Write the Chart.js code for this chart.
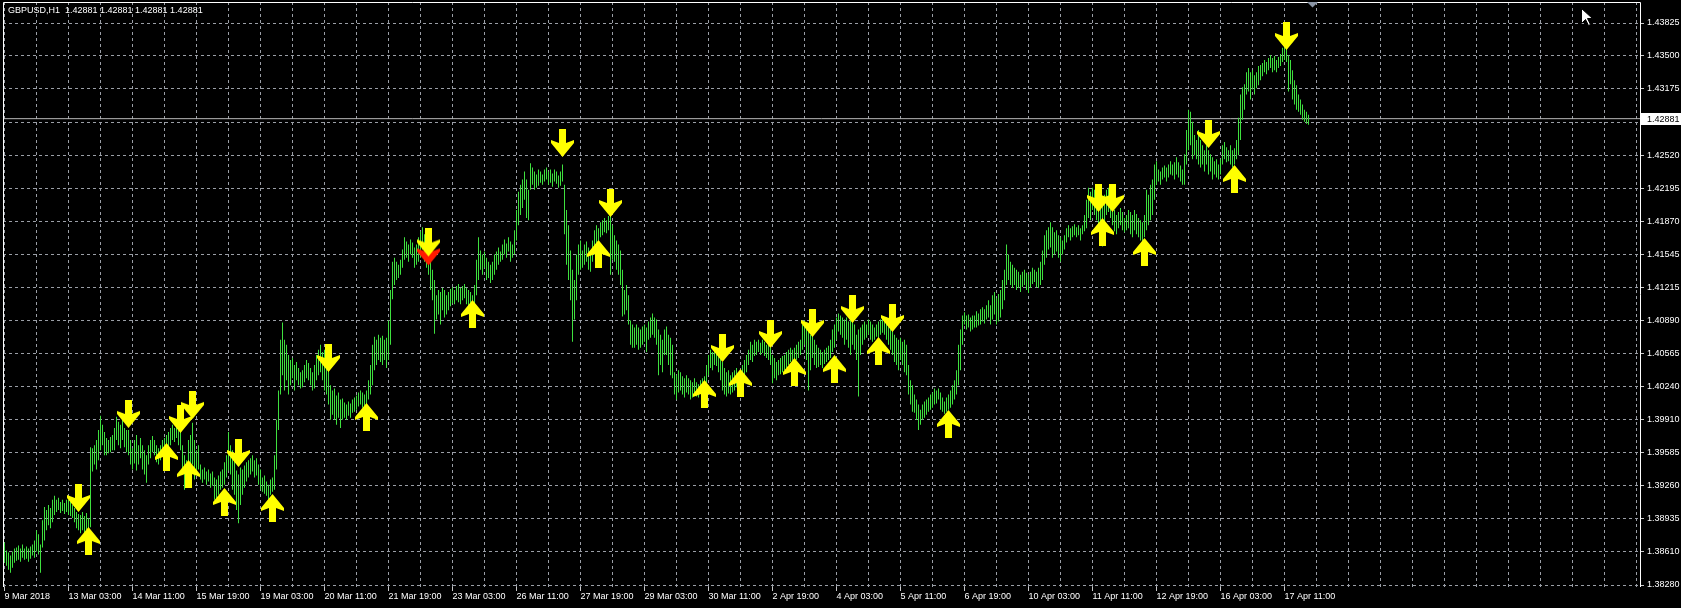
<!DOCTYPE html>
<html><head><meta charset="utf-8">
<script src="https://cdn.jsdelivr.net/npm/chart.js@4.4.1/dist/chart.umd.min.js"></script>
<style>html,body{margin:0;padding:0;background:#000;overflow:hidden}canvas{display:block}</style>
</head><body>
<canvas id="c" width="1681" height="608"></canvas>
<script>
// ---------- data ----------
const symbolTitle = 'GBPUSD,H1  1.42881 1.42881 1.42881 1.42881';
const currentPrice = 1.42881;
const priceTicks = [1.38280,1.38610,1.38935,1.39260,1.39585,1.39910,1.40240,1.40565,1.40890,1.41215,1.41545,1.41870,1.42195,1.42520,1.42845,1.43175,1.43500,1.43825];
const timeLabels = ['9 Mar 2018','13 Mar 03:00','14 Mar 11:00','15 Mar 19:00','19 Mar 03:00','20 Mar 11:00','21 Mar 19:00','23 Mar 03:00','26 Mar 11:00','27 Mar 19:00','29 Mar 03:00','30 Mar 11:00','2 Apr 19:00','4 Apr 03:00','5 Apr 11:00','6 Apr 19:00','10 Apr 03:00','11 Apr 11:00','12 Apr 19:00','16 Apr 03:00','17 Apr 11:00'];
const timeLabelBars = [0,32,64,96,128,160,192,224,256,288,320,352,384,416,448,480,512,544,576,608,640];

// hourly bars: [low, high]
const hlBars = [
[1.3850,1.3870],[1.3847,1.3862],[1.3843,1.3860],[1.3840,1.3857],[1.3845,1.3861],[1.3850,1.3864],[1.3852,1.3865],[1.3853,1.3867],[1.3851,1.3864],[1.3855,1.3868],
[1.3853,1.3864],[1.3854,1.3866],[1.3851,1.3864],[1.3854,1.3866],[1.3857,1.3868],[1.3855,1.3872],[1.3861,1.3882],[1.3858,1.3878],[1.3840,1.3868],[1.3865,1.3892],
[1.3872,1.3905],[1.3882,1.3902],[1.3887,1.3907],[1.3884,1.3904],[1.3890,1.3912],[1.3897,1.3916],[1.3900,1.3912],[1.3902,1.3914],[1.3899,1.3910],[1.3901,1.3912],
[1.3898,1.3909],[1.3900,1.3912],[1.3897,1.3912],[1.3896,1.3910],[1.3894,1.3907],[1.3890,1.3904],[1.3884,1.3900],[1.3882,1.3898],[1.3879,1.3897],[1.3882,1.3900],
[1.3878,1.3896],[1.3882,1.3899],[1.3876,1.3894],[1.3885,1.3964],[1.3940,1.3963],[1.3947,1.3966],[1.3942,1.3971],[1.3951,1.3981],[1.3961,1.3995],[1.3966,1.3986],
[1.3956,1.3979],[1.3956,1.3973],[1.3958,1.3971],[1.3959,1.3974],[1.3961,1.3976],[1.3961,1.3983],[1.3971,1.3994],[1.3966,1.3989],[1.3963,1.3986],[1.3971,1.3991],
[1.3964,1.3983],[1.3959,1.3981],[1.3956,1.3981],[1.3947,1.3971],[1.3942,1.3963],[1.3948,1.3971],[1.3941,1.3976],[1.3947,1.3966],[1.3953,1.3973],[1.3942,1.3966],
[1.3937,1.3961],[1.3929,1.3956],[1.3947,1.3966],[1.3953,1.3971],[1.3959,1.3975],[1.3956,1.3971],[1.3949,1.3966],[1.3947,1.3963],[1.3951,1.3966],[1.3956,1.3971],
[1.3958,1.3973],[1.3961,1.3976],[1.3963,1.3979],[1.3966,1.3983],[1.3971,1.3986],[1.3969,1.3983],[1.3973,1.3986],[1.3966,1.3981],[1.3961,1.3979],[1.3937,1.3966],
[1.3922,1.3956],[1.3927,1.3951],[1.3932,1.3971],[1.3942,1.3976],[1.3947,1.3988],[1.3932,1.3971],[1.3937,1.3961],[1.3942,1.3966],[1.3932,1.3947],[1.3929,1.3942],
[1.3932,1.3944],[1.3927,1.3940],[1.3930,1.3942],[1.3924,1.3938],[1.3926,1.3940],[1.3912,1.3934],[1.3910,1.3932],[1.3917,1.3936],[1.3922,1.3940],[1.3924,1.3942],
[1.3927,1.3949],[1.3934,1.3956],[1.3941,1.3979],[1.3937,1.3966],[1.3922,1.3961],[1.3917,1.3951],[1.3902,1.3941],[1.3889,1.3937],[1.3907,1.3944],[1.3917,1.3942],
[1.3924,1.3946],[1.3930,1.3949],[1.3934,1.3951],[1.3937,1.3953],[1.3940,1.3956],[1.3934,1.3951],[1.3936,1.3953],[1.3927,1.3947],[1.3922,1.3942],[1.3920,1.3934],
[1.3918,1.3936],[1.3916,1.3930],[1.3912,1.3927],[1.3917,1.3932],[1.3920,1.3934],[1.3922,1.3956],[1.3942,1.3991],[1.3981,1.4020],[1.4016,1.4070],[1.4035,1.4087],
[1.4020,1.4070],[1.4030,1.4065],[1.4016,1.4055],[1.4025,1.4050],[1.4032,1.4052],[1.4020,1.4045],[1.4030,1.4048],[1.4025,1.4042],[1.4022,1.4038],[1.4023,1.4040],
[1.4028,1.4045],[1.4032,1.4050],[1.4030,1.4047],[1.4025,1.4042],[1.4020,1.4038],[1.4022,1.4045],[1.4030,1.4055],[1.4035,1.4060],[1.4038,1.4065],[1.4030,1.4058],
[1.4020,1.4060],[1.4016,1.4053],[1.4006,1.4040],[1.3991,1.4025],[1.3996,1.4020],[1.3991,1.4022],[1.3986,1.4015],[1.3993,1.4018],[1.3983,1.4011],[1.3991,1.4012],
[1.3993,1.4008],[1.3991,1.4006],[1.3995,1.4009],[1.3993,1.4007],[1.3998,1.4011],[1.3999,1.4013],[1.4001,1.4015],[1.4004,1.4018],[1.4006,1.4020],[1.4003,1.4018],
[1.4001,1.4016],[1.4005,1.4020],[1.4011,1.4030],[1.4016,1.4045],[1.4025,1.4065],[1.4040,1.4073],[1.4045,1.4070],[1.4050,1.4075],[1.4048,1.4072],[1.4045,1.4074],
[1.4050,1.4070],[1.4042,1.4072],[1.4050,1.4089],[1.4065,1.4119],[1.4110,1.4147],[1.4124,1.4151],[1.4129,1.4147],[1.4131,1.4144],[1.4134,1.4149],[1.4141,1.4159],
[1.4149,1.4171],[1.4151,1.4167],[1.4147,1.4164],[1.4154,1.4169],[1.4151,1.4166],[1.4141,1.4161],[1.4144,1.4164],[1.4147,1.4171],[1.4151,1.4177],[1.4159,1.4181],
[1.4147,1.4174],[1.4141,1.4168],[1.4134,1.4164],[1.4119,1.4149],[1.4109,1.4139],[1.4076,1.4129],[1.4090,1.4114],[1.4095,1.4119],[1.4085,1.4117],[1.4099,1.4121],
[1.4092,1.4119],[1.4095,1.4114],[1.4099,1.4117],[1.4103,1.4120],[1.4106,1.4122],[1.4105,1.4119],[1.4109,1.4123],[1.4107,1.4125],[1.4105,1.4121],[1.4109,1.4123],
[1.4111,1.4125],[1.4105,1.4121],[1.4100,1.4119],[1.4095,1.4117],[1.4087,1.4114],[1.4105,1.4124],[1.4114,1.4149],[1.4129,1.4171],[1.4139,1.4158],[1.4134,1.4154],
[1.4141,1.4157],[1.4129,1.4151],[1.4131,1.4147],[1.4126,1.4144],[1.4129,1.4147],[1.4134,1.4154],[1.4139,1.4157],[1.4144,1.4161],[1.4147,1.4157],[1.4149,1.4164],
[1.4154,1.4169],[1.4151,1.4165],[1.4157,1.4171],[1.4147,1.4167],[1.4151,1.4164],[1.4154,1.4178],[1.4168,1.4198],[1.4183,1.4216],[1.4193,1.4223],[1.4200,1.4228],
[1.4208,1.4236],[1.4190,1.4228],[1.4188,1.4218],[1.4218,1.4244],[1.4223,1.4240],[1.4218,1.4236],[1.4220,1.4233],[1.4222,1.4238],[1.4225,1.4236],[1.4223,1.4233],
[1.4226,1.4238],[1.4228,1.4240],[1.4223,1.4236],[1.4225,1.4238],[1.4221,1.4234],[1.4226,1.4238],[1.4224,1.4236],[1.4220,1.4232],[1.4222,1.4236],[1.4226,1.4243],
[1.4174,1.4223],[1.4144,1.4198],[1.4129,1.4183],[1.4109,1.4158],[1.4068,1.4139],[1.4090,1.4129],[1.4109,1.4154],[1.4134,1.4164],[1.4139,1.4168],[1.4141,1.4158],
[1.4144,1.4164],[1.4147,1.4167],[1.4139,1.4161],[1.4137,1.4158],[1.4147,1.4168],[1.4154,1.4178],[1.4158,1.4183],[1.4168,1.4180],[1.4171,1.4186],[1.4173,1.4188],
[1.4176,1.4190],[1.4175,1.4188],[1.4178,1.4192],[1.4134,1.4193],[1.4149,1.4183],[1.4147,1.4173],[1.4139,1.4168],[1.4134,1.4164],[1.4124,1.4158],[1.4093,1.4139],
[1.4095,1.4119],[1.4099,1.4124],[1.4085,1.4114],[1.4065,1.4089],[1.4062,1.4085],[1.4062,1.4082],[1.4065,1.4085],[1.4060,1.4082],[1.4062,1.4080],[1.4065,1.4083],
[1.4068,1.4085],[1.4058,1.4082],[1.4070,1.4088],[1.4072,1.4092],[1.4075,1.4096],[1.4072,1.4092],[1.4065,1.4090],[1.4035,1.4080],[1.4045,1.4075],[1.4038,1.4070],
[1.4055,1.4080],[1.4055,1.4083],[1.4045,1.4075],[1.4035,1.4072],[1.4032,1.4065],[1.4016,1.4038],[1.4011,1.4035],[1.4018,1.4040],[1.4020,1.4038],[1.4016,1.4034],
[1.4013,1.4032],[1.4018,1.4035],[1.4016,1.4032],[1.4011,1.4030],[1.4013,1.4028],[1.4016,1.4032],[1.4014,1.4028],[1.4013,1.4026],[1.4017,1.4030],[1.4018,1.4032],
[1.4018,1.4034],[1.4025,1.4045],[1.4035,1.4055],[1.4042,1.4060],[1.4040,1.4058],[1.4045,1.4062],[1.4044,1.4060],[1.4038,1.4055],[1.4030,1.4052],[1.4020,1.4048],
[1.4016,1.4042],[1.4014,1.4038],[1.4017,1.4040],[1.4016,1.4035],[1.4018,1.4038],[1.4020,1.4040],[1.4023,1.4042],[1.4024,1.4038],[1.4025,1.4040],[1.4028,1.4045],
[1.4032,1.4050],[1.4038,1.4055],[1.4045,1.4060],[1.4050,1.4068],[1.4048,1.4065],[1.4054,1.4070],[1.4055,1.4068],[1.4058,1.4070],[1.4055,1.4067],[1.4057,1.4070],
[1.4054,1.4068],[1.4052,1.4065],[1.4050,1.4066],[1.4045,1.4062],[1.4027,1.4055],[1.4032,1.4052],[1.4030,1.4048],[1.4035,1.4050],[1.4036,1.4052],[1.4038,1.4054],
[1.4040,1.4055],[1.4042,1.4058],[1.4045,1.4060],[1.4048,1.4062],[1.4045,1.4060],[1.4042,1.4062],[1.4050,1.4065],[1.4052,1.4068],[1.4055,1.4070],[1.4060,1.4085],
[1.4065,1.4089],[1.4050,1.4087],[1.4020,1.4080],[1.4040,1.4075],[1.4052,1.4082],[1.4045,1.4070],[1.4042,1.4065],[1.4043,1.4062],[1.4045,1.4060],[1.4042,1.4058],
[1.4046,1.4060],[1.4048,1.4062],[1.4050,1.4064],[1.4052,1.4070],[1.4058,1.4080],[1.4062,1.4085],[1.4070,1.4092],[1.4078,1.4096],[1.4075,1.4094],[1.4072,1.4092],
[1.4065,1.4090],[1.4070,1.4092],[1.4062,1.4088],[1.4055,1.4092],[1.4065,1.4090],[1.4060,1.4085],[1.4050,1.4075],[1.4014,1.4080],[1.4055,1.4082],[1.4065,1.4085],
[1.4070,1.4088],[1.4072,1.4085],[1.4075,1.4090],[1.4070,1.4088],[1.4068,1.4085],[1.4070,1.4082],[1.4073,1.4085],[1.4072,1.4088],[1.4075,1.4090],[1.4077,1.4092],
[1.4075,1.4090],[1.4070,1.4092],[1.4065,1.4088],[1.4060,1.4085],[1.4055,1.4080],[1.4048,1.4075],[1.4045,1.4072],[1.4040,1.4070],[1.4050,1.4072],[1.4045,1.4068],
[1.4038,1.4070],[1.4035,1.4065],[1.4016,1.4045],[1.4006,1.4030],[1.3999,1.4025],[1.3998,1.4016],[1.3991,1.4011],[1.3981,1.4006],[1.3986,1.4001],[1.3991,1.4006],
[1.3993,1.4009],[1.3996,1.4011],[1.3999,1.4013],[1.4001,1.4016],[1.4003,1.4018],[1.4006,1.4022],[1.4007,1.4020],[1.4011,1.4022],[1.4001,1.4018],[1.3999,1.4013],
[1.3997,1.4009],[1.3999,1.4013],[1.4001,1.4016],[1.4003,1.4020],[1.4006,1.4025],[1.4011,1.4030],[1.4016,1.4040],[1.4025,1.4065],[1.4040,1.4080],[1.4065,1.4094],
[1.4085,1.4097],[1.4080,1.4094],[1.4082,1.4095],[1.4078,1.4092],[1.4080,1.4094],[1.4082,1.4094],[1.4082,1.4098],[1.4084,1.4096],[1.4085,1.4100],[1.4088,1.4102],
[1.4086,1.4100],[1.4090,1.4104],[1.4092,1.4109],[1.4085,1.4104],[1.4090,1.4114],[1.4095,1.4117],[1.4085,1.4111],[1.4088,1.4115],[1.4092,1.4119],[1.4100,1.4129],
[1.4109,1.4139],[1.4124,1.4164],[1.4129,1.4154],[1.4124,1.4147],[1.4121,1.4144],[1.4124,1.4141],[1.4119,1.4139],[1.4121,1.4137],[1.4117,1.4134],[1.4122,1.4137],
[1.4124,1.4139],[1.4119,1.4136],[1.4116,1.4134],[1.4121,1.4137],[1.4125,1.4141],[1.4127,1.4139],[1.4122,1.4137],[1.4121,1.4141],[1.4124,1.4147],[1.4129,1.4158],
[1.4144,1.4173],[1.4151,1.4178],[1.4159,1.4181],[1.4161,1.4186],[1.4151,1.4181],[1.4154,1.4176],[1.4157,1.4178],[1.4151,1.4173],[1.4147,1.4171],[1.4154,1.4168],
[1.4159,1.4173],[1.4166,1.4180],[1.4171,1.4183],[1.4168,1.4180],[1.4171,1.4182],[1.4173,1.4184],[1.4171,1.4181],[1.4173,1.4183],[1.4168,1.4180],[1.4174,1.4183],
[1.4177,1.4193],[1.4180,1.4208],[1.4190,1.4220],[1.4188,1.4216],[1.4198,1.4220],[1.4193,1.4218],[1.4188,1.4213],[1.4183,1.4216],[1.4173,1.4203],[1.4162,1.4208],
[1.4183,1.4213],[1.4193,1.4218],[1.4196,1.4220],[1.4190,1.4213],[1.4183,1.4210],[1.4177,1.4198],[1.4174,1.4193],[1.4180,1.4196],[1.4183,1.4200],[1.4178,1.4196],
[1.4176,1.4190],[1.4178,1.4193],[1.4180,1.4198],[1.4174,1.4196],[1.4171,1.4193],[1.4178,1.4198],[1.4174,1.4194],[1.4171,1.4190],[1.4168,1.4188],[1.4164,1.4186],
[1.4171,1.4193],[1.4178,1.4218],[1.4183,1.4213],[1.4188,1.4223],[1.4193,1.4228],[1.4208,1.4243],[1.4223,1.4246],[1.4226,1.4238],[1.4223,1.4236],[1.4228,1.4240],
[1.4230,1.4242],[1.4226,1.4240],[1.4230,1.4243],[1.4233,1.4246],[1.4232,1.4243],[1.4228,1.4245],[1.4233,1.4250],[1.4230,1.4245],[1.4226,1.4242],[1.4223,1.4238],
[1.4223,1.4253],[1.4243,1.4277],[1.4257,1.4297],[1.4262,1.4295],[1.4248,1.4285],[1.4252,1.4272],[1.4248,1.4267],[1.4243,1.4277],[1.4240,1.4267],[1.4243,1.4262],
[1.4236,1.4257],[1.4243,1.4262],[1.4233,1.4257],[1.4236,1.4253],[1.4228,1.4250],[1.4233,1.4246],[1.4230,1.4248],[1.4228,1.4243],[1.4233,1.4248],[1.4243,1.4262],
[1.4248,1.4265],[1.4245,1.4260],[1.4246,1.4257],[1.4243,1.4262],[1.4240,1.4257],[1.4243,1.4259],[1.4248,1.4267],[1.4252,1.4289],[1.4267,1.4312],[1.4287,1.4319],
[1.4297,1.4322],[1.4312,1.4334],[1.4315,1.4338],[1.4307,1.4334],[1.4317,1.4336],[1.4312,1.4331],[1.4318,1.4334],[1.4321,1.4340],[1.4326,1.4341],[1.4330,1.4343],
[1.4334,1.4346],[1.4332,1.4344],[1.4336,1.4348],[1.4338,1.4351],[1.4334,1.4348],[1.4336,1.4350],[1.4334,1.4346],[1.4338,1.4349],[1.4340,1.4352],[1.4344,1.4358],
[1.4346,1.4371],[1.4344,1.4366],[1.4315,1.4351],[1.4322,1.4346],[1.4307,1.4336],[1.4302,1.4326],[1.4297,1.4321],[1.4295,1.4312],[1.4292,1.4307],[1.4287,1.4302],
[1.4285,1.4297],[1.4283,1.4295],[1.4282,1.4292]
];

// signal arrows: [bar index, price of arrow centre]
const sellSignals = [[37,1.39139],[62,1.39968],[88,1.39918],[94,1.40057],[117,1.39583],[162,1.40520],[279,1.42641],[303,1.42049],[359,1.40619],[383,1.40757],[404,1.40865],[424,1.41003],[444,1.40915],[547,1.42099],[554,1.42099],[602,1.42730],[641,1.43697]];
const buySignals  = [[42,1.38714],[81,1.39543],[92,1.39375],[110,1.39099],[134,1.39040],[181,1.39938],[234,1.40954],[297,1.41546],[350,1.40165],[368,1.40273],[395,1.40382],[415,1.40411],[437,1.40589],[472,1.39869],[549,1.41763],[570,1.41566],[615,1.42286]];
const alertSignals = [[212,1.41616]];

// ---------- styling ----------
const FONT = '"Liberation Sans", Arial, sans-serif';
const GRID = '#9a9ea6';
const BAR = '#3ee03e';
const AREA = { left: 3, top: 2, right: 1640, bottom: 587 };

function arrowPts(up) {
  const h = 28;
  let p = [[11.5,0],[23,14],[23,17],[15,14],[15,28],[8,28],[8,14],[0,17],[0,14]];
  if (!up) p = p.map(([x,y]) => [x, h - y]);
  return p;
}
function drawPoly(g, pts, dx, dy, fill) {
  g.fillStyle = fill; g.beginPath();
  pts.forEach(([x,y],k) => k ? g.lineTo(x+dx,y+dy) : g.moveTo(x+dx,y+dy));
  g.closePath(); g.fill();
}
function arrowCanvas(up, fill) {
  const c = document.createElement('canvas'); c.width = 23; c.height = 28;
  drawPoly(c.getContext('2d'), arrowPts(up), 0, 0, fill);
  return c;
}
function alertCanvas() {
  const c = document.createElement('canvas'); c.width = 23; c.height = 37;
  const g = c.getContext('2d');
  drawPoly(g, arrowPts(false), 0, 9, '#ff1a00');
  drawPoly(g, arrowPts(false), 0, 0, '#ffff00');
  return c;
}
const upArrow = arrowCanvas(true, '#ffff00');
const downArrow = arrowCanvas(false, '#ffff00');
const redArrow = alertCanvas();

// pin the plot area to the terminal window's frame
const pinArea = {
  id: 'pinArea',
  afterLayout(ch) {
    const a = ch.chartArea, W = ch.width, H = ch.height;
    a.left = AREA.left; a.top = AREA.top; a.right = AREA.right; a.bottom = AREA.bottom;
    a.width = AREA.right - AREA.left; a.height = AREA.bottom - AREA.top;
    const x = ch.scales.x, y = ch.scales.y;
    x.left = AREA.left; x.right = AREA.right; x.width = a.width;
    x.top = AREA.bottom; x.bottom = H; x.height = H - AREA.bottom;
    y.top = AREA.top; y.bottom = AREA.bottom; y.height = a.height;
    y.left = AREA.right; y.right = W; y.width = W - AREA.right;
    x.configure(); y.configure();
  }
};

const decor = {
  id: 'decor',
  beforeDraw(ch) {
    const g = ch.ctx; g.save(); g.fillStyle = '#000'; g.fillRect(0, 0, ch.width, ch.height); g.restore();
  },
  afterDraw(ch) {
    const g = ch.ctx, a = ch.chartArea;
    g.save();
    g.strokeStyle = '#ffffff'; g.lineWidth = 1; g.setLineDash([]);
    g.beginPath();
    g.moveTo(a.left + 0.5, a.bottom); g.lineTo(a.left + 0.5, a.top + 0.5);
    g.lineTo(a.right + 0.5, a.top + 0.5); g.lineTo(a.right + 0.5, a.bottom);
    g.stroke();
    // title
    g.font = '9px ' + FONT; g.fillStyle = '#ffffff'; g.textBaseline = 'middle'; g.textAlign = 'left';
    g.fillText(symbolTitle, 8, 10.5);
    // current price box
    const py = Math.round(ch.scales.y.getPixelForValue(currentPrice));
    g.fillStyle = '#ffffff'; g.fillRect(a.right + 1, py - 6, ch.width - a.right - 1, 12);
    g.fillStyle = '#000000'; g.fillText(currentPrice.toFixed(5), a.right + 7, py + 0.5);
    // chart shift marker
    g.fillStyle = '#8a95a5'; g.beginPath(); g.moveTo(1307, 2); g.lineTo(1318, 2); g.lineTo(1312.5, 7.5); g.closePath(); g.fill();
    // mouse pointer
    const cx = 1581.5, cy = 8.5;
    const cp = [[0,0],[0,15],[4,11],[7,17],[9,16],[6,10],[11,10]];
    g.beginPath(); cp.forEach(([x,y],k) => k ? g.lineTo(cx+x, cy+y) : g.moveTo(cx+x, cy+y)); g.closePath();
    g.fillStyle = '#ffffff'; g.fill(); g.strokeStyle = '#000000'; g.stroke();
    g.restore();
  }
};

const xMin = -0.75, xMax = 817.75;

new Chart(document.getElementById('c'), {
  type: 'bar',
  data: {
    datasets: [
      { type: 'line', label: 'buy', data: buySignals.map(([i,p]) => ({x: i, y: p})), showLine: false,
        pointStyle: upArrow, pointRadius: 5, order: 0 },
      { type: 'line', label: 'sell', data: sellSignals.map(([i,p]) => ({x: i, y: p})), showLine: false,
        pointStyle: downArrow, pointRadius: 5, order: 0 },
      { type: 'line', label: 'alert', data: alertSignals.map(([i,p]) => ({x: i, y: p})), showLine: false,
        pointStyle: redArrow, pointRadius: 5, order: 1 },
      { type: 'bar', label: 'GBPUSD H1', data: hlBars.map((r, i) => ({x: i, y: r})),
        backgroundColor: BAR, borderWidth: 0, barThickness: 1, inflateAmount: 0, grouped: false, order: 3 },
      { type: 'line', label: 'bid', data: [{x: xMin, y: currentPrice}, {x: xMax, y: currentPrice}],
        borderColor: '#b8b8b8', borderWidth: 1, pointRadius: 0, order: 4 }
    ]
  },
  options: {
    responsive: false, animation: false, events: [], devicePixelRatio: 1,
    layout: { padding: { left: 3, top: 2, right: 0, bottom: 0 } },
    plugins: { legend: { display: false }, tooltip: { enabled: false }, title: { display: false } },
    scales: {
      x: {
        type: 'linear', min: xMin, max: xMax, offset: false,
        afterBuildTicks: s => { const t = []; for (let v = 0; v <= 816; v += 16) t.push({ value: v }); s.ticks = t; },
        afterFit: s => { s.height = 21; },
        grid: { color: GRID, lineWidth: 1, drawTicks: true, tickLength: 4, offset: false,
          tickColor: c => (c.tick && timeLabelBars.includes(c.tick.value)) ? '#c8c8c8' : 'rgba(0,0,0,0)' },
        border: { display: false, dash: [3, 3] },
        ticks: { autoSkip: false, maxRotation: 0, minRotation: 0, align: 'start', padding: 0, color: '#ffffff',
          font: { family: FONT, size: 9 },
          callback: v => { const k = timeLabelBars.indexOf(v); return k >= 0 ? timeLabels[k] : ''; } }
      },
      y: {
        type: 'linear', position: 'right', min: 1.382603, max: 1.440322,
        afterBuildTicks: s => { s.ticks = priceTicks.map(v => ({ value: v })); },
        afterFit: s => { s.width = 41; },
        grid: { color: GRID, lineWidth: 1, tickLength: 4, tickColor: '#c8c8c8' },
        border: { display: false, dash: [3, 3] },
        ticks: { padding: 3, color: '#ffffff', font: { family: FONT, size: 9 }, callback: v => Number(v).toFixed(5) }
      }
    }
  },
  plugins: [pinArea, decor]
});
</script>
</body></html>
